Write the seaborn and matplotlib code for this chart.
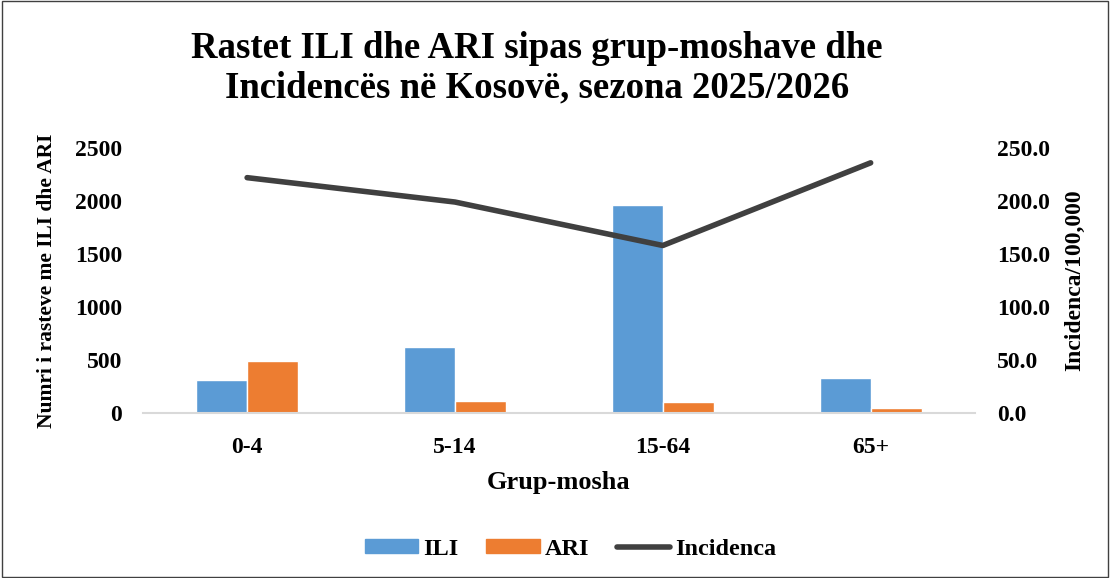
import matplotlib
matplotlib.use("Agg")
import matplotlib.pyplot as plt
import pandas as pd
import seaborn as sns
from matplotlib.lines import Line2D
from matplotlib.patches import Patch, Rectangle

age_groups = ["0-4", "5-14", "15-64", "65+"]
ili_cases = [315, 620, 1965, 330]
ari_cases = [490, 110, 108, 45]
incidence = [222.0, 199.0, 158.0, 236.0]

ili_color = "#5B9BD5"
ari_color = "#ED7D31"
line_color = "#404040"

sns.set_theme(style="white")
plt.rcParams["font.family"] = ["Liberation Serif", "DejaVu Serif"]
plt.rcParams["font.weight"] = "bold"
plt.rcParams["text.color"] = "black"
plt.rcParams["axes.labelcolor"] = "black"
plt.rcParams["xtick.color"] = "black"
plt.rcParams["ytick.color"] = "black"

df = pd.DataFrame({
    "Grup-mosha": age_groups * 2,
    "Rastet": ili_cases + ari_cases,
    "Lloji": ["ILI"] * len(age_groups) + ["ARI"] * len(age_groups),
})

fig = plt.figure(figsize=(11.1, 5.78), dpi=100)
ax = fig.add_axes([0.129, 0.2855, 0.749, 0.4585])

sns.barplot(data=df, x="Grup-mosha", y="Rastet", hue="Lloji", order=age_groups,
            hue_order=["ILI", "ARI"], palette=[ili_color, ari_color],
            width=0.49, gap=0, saturation=1, ax=ax, legend=False)

ax.set_xlim(-0.5, 3.5)
ax.set_ylim(0, 2500)
ax.set_yticks(range(0, 2501, 500))
for s in ["top", "right", "left"]:
    ax.spines[s].set_visible(False)
ax.spines["bottom"].set_color("#D9D9D9")
ax.spines["bottom"].set_linewidth(1.5)
ax.tick_params(axis="both", length=0, labelsize=17, labelcolor="black")
ax.tick_params(axis="x", pad=17)
ax.tick_params(axis="y", pad=15)
ax.set_xlabel("Grup-mosha", fontsize=19, fontweight="bold", labelpad=10)
ax.set_ylabel("Numri i rasteve me ILI dhe ARI", fontsize=15.5, fontweight="bold", labelpad=13)

ax2 = ax.twinx()
sns.lineplot(x=list(range(len(age_groups))), y=incidence, color=line_color,
             linewidth=4, ax=ax2, solid_capstyle="round")
ax2.set_ylim(0, 250)
ax2.set_yticks(range(0, 251, 50))
ax2.set_yticklabels([f"{v:.1f}" for v in range(0, 251, 50)])
for s in ["top", "right", "left", "bottom"]:
    ax2.spines[s].set_visible(False)
ax2.tick_params(axis="y", length=0, labelsize=17, pad=16, labelcolor="black")
ax2.set_ylabel("Incidenca/100,000", fontsize=17, fontweight="bold", labelpad=10)

fig.text(0.484, 0.882, "Rastet ILI dhe ARI sipas grup-moshave dhe\nIncidencës në Kosovë, sezona 2025/2026",
         ha="center", va="center", fontsize=26.5, fontweight="bold", linespacing=1.15)

handles = [Patch(color=ili_color, label="ILI"),
           Patch(color=ari_color, label="ARI"),
           Line2D([0], [0], color=line_color, linewidth=4, solid_capstyle="round", label="Incidenca")]
fig.legend(handles=handles, loc="center", bbox_to_anchor=(0.514, 0.05), ncol=3,
           frameon=False, fontsize=17.5, handlelength=2.2, handleheight=0.5,
           columnspacing=1.15, handletextpad=0.2)

fig.patches.append(Rectangle((0.002, 0.002), 0.996, 0.996, transform=fig.transFigure,
                             fill=False, edgecolor="#404040", linewidth=1))

fig.savefig("out.png", dpi=100)
